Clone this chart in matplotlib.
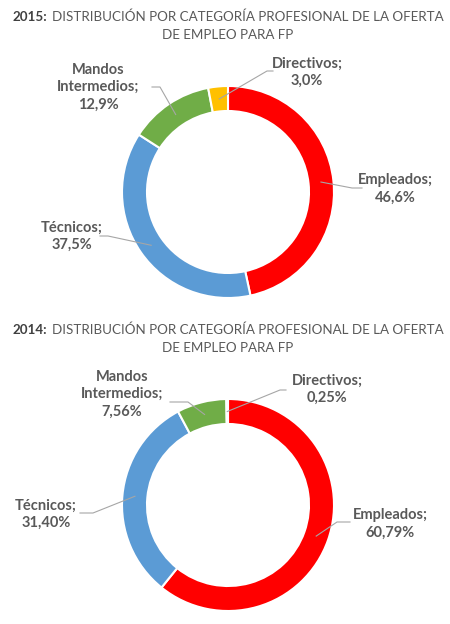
import matplotlib.pyplot as plt
import numpy as np

# categories in drawing order (clockwise from 12 o'clock)
categories = ["Empleados", "Técnicos", "Mandos\nIntermedios", "Directivos"]
colors = ["#FF0000", "#5B9BD5", "#70AD47", "#FFC000"]

values_2015 = [46.6, 37.5, 12.9, 3.0]
labels_2015 = ["46,6%", "37,5%", "12,9%", "3,0%"]

values_2014 = [60.79, 31.40, 7.56, 0.25]
labels_2014 = ["60,79%", "31,40%", "7,56%", "0,25%"]

W, H = 450, 624
fig = plt.figure(figsize=(W / 100, H / 100), dpi=100)
ax = fig.add_axes([0, 0, 1, 1])

text_color = "#595959"
font = "Lato"


def py(y):
    # pixel row (from top) -> data y
    return H - y


def fix_limits():
    ax.set_xlim(0, W)
    ax.set_ylim(0, H)
    ax.set_aspect("equal")
    ax.axis("off")


def donut(values, pcts, year, cy, title_y, label_pos, elbows):
    cx, r, w = 228, 106, 25
    wedges, _ = ax.pie(values, colors=colors, startangle=90, counterclock=False,
                       radius=r, center=(cx, py(cy)),
                       wedgeprops=dict(width=w, edgecolor="white", linewidth=1.5))
    fix_limits()
    for wdg, name, pct, (lx, ly), elb in zip(wedges, categories, pcts, label_pos, elbows):
        ang = np.deg2rad((wdg.theta1 + wdg.theta2) / 2)
        rm = r - w / 2
        sx, sy = cx + rm * np.cos(ang), py(cy) + rm * np.sin(ang)
        ex, ey = elb
        ax.plot([sx, ex[0], ex[1]], [sy, py(ey), py(ey)], color="#A6A6A6", lw=0.8, zorder=3)
        ax.text(lx, py(ly), f"{name};\n{pct}", ha="center", va="center", fontsize=10.5,
                fontweight="bold", color=text_color, family=font, linespacing=1.3)

    # title: bold year followed by regular text
    t1 = ax.text(13, py(title_y), f"{year}:", ha="left", va="center", fontsize=9.6,
                 fontweight="bold", color="#404040", family=font)
    fig.canvas.draw()
    bb = t1.get_window_extent()
    x1 = ax.transData.inverted().transform((bb.x1, bb.y0))[0]
    ax.text(x1 + 4, py(title_y), "DISTRIBUCIÓN POR CATEGORÍA PROFESIONAL DE LA OFERTA",
            ha="left", va="center", fontsize=9.6, color=text_color, family=font)
    ax.text(228, py(title_y + 18), "DE EMPLEO PARA FP", ha="center", va="center",
            fontsize=9.6, color=text_color, family=font)


donut(values_2015, labels_2015, 2015, 192, 17,
      [(395, 189), (72, 236), (98, 87), (307, 72)],
      [((352, 362), 188), ((108, 100), 236), ((160, 152), 87), ((267, 273), 71)])

donut(values_2014, labels_2014, 2014, 505, 330,
      [(390, 524), (46, 514), (122, 394), (327, 389)],
      [((337, 350), 522), ((93, 80), 513), ((188, 170), 402), ((280, 286), 390)])

fix_limits()
fig.savefig("out.png", dpi=100)
